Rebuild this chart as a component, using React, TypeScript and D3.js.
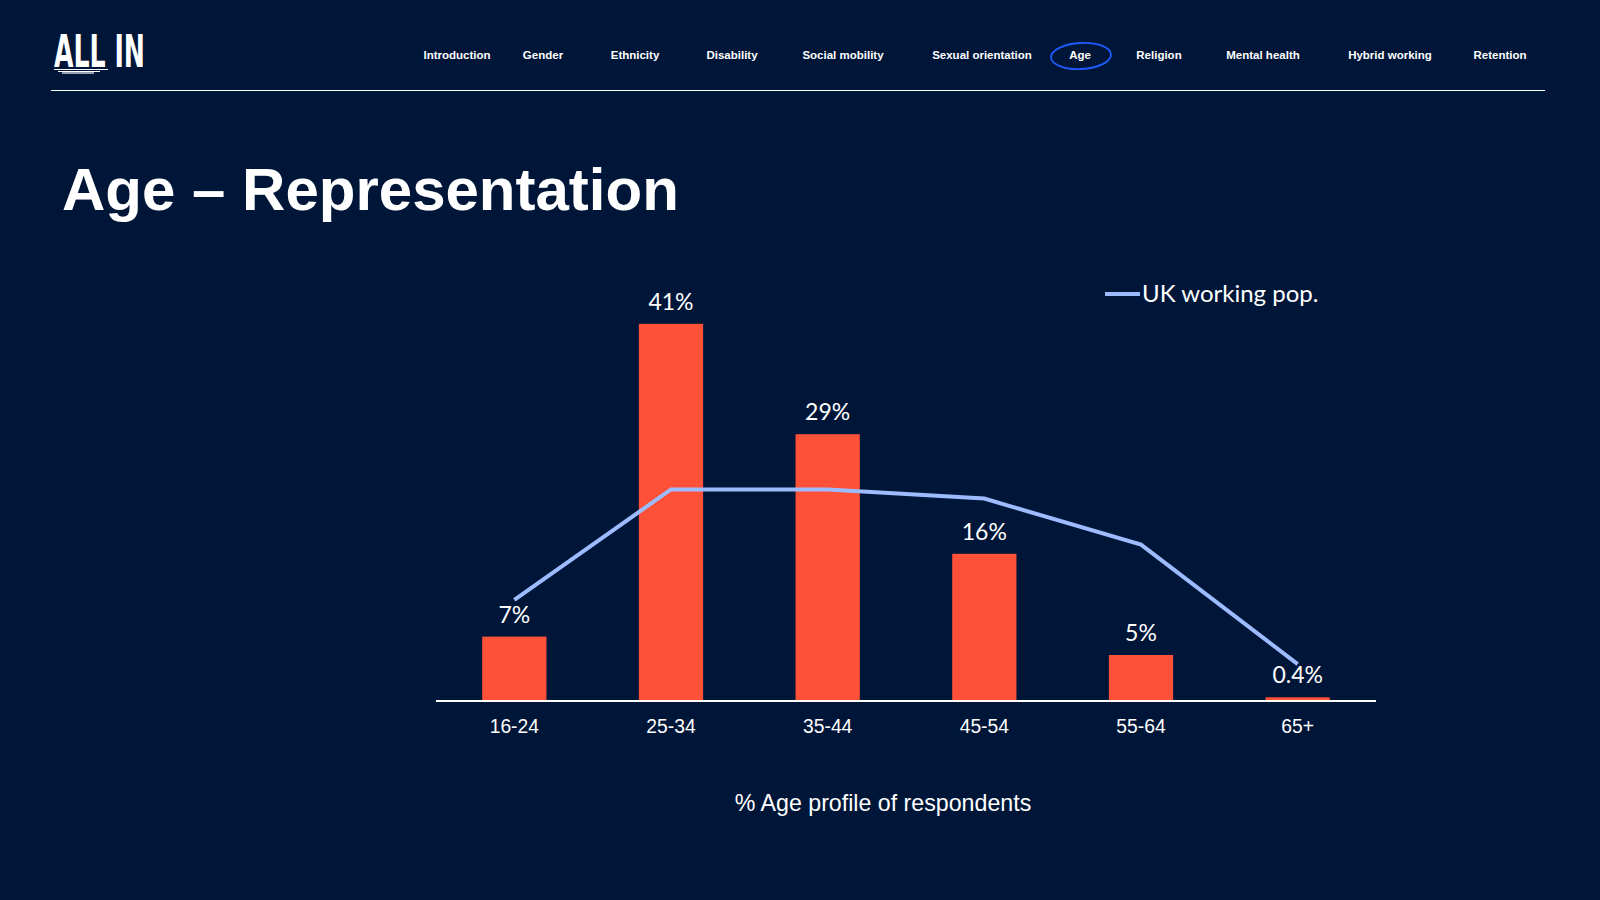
import React, { useEffect, useRef } from 'react';
import * as d3 from 'd3';

const ageGroups = ['16-24', '25-34', '35-44', '45-54', '55-64', '65+'];
const respondentsPct = [7, 41, 29, 16, 5, 0.4];
const respondentLabels = ['7%', '41%', '29%', '16%', '5%', '0.4%'];
const ukWorkingPopPct = [11, 23, 23, 22, 17, 4];

const navItems = [
    'Introduction', 'Gender', 'Ethnicity', 'Disability', 'Social mobility',
    'Sexual orientation', 'Age', 'Religion', 'Mental health', 'Hybrid working', 'Retention',
];
const navCenters = [457, 543, 635, 732, 843, 982, 1080, 1159, 1263, 1390, 1500];

const BG = '#001639';
const BAR = '#ff5138';
const LINE = '#9dbbff';

export default function App() {
    const width = 1600;
    const height = 900;
    const svgRef = useRef<SVGSVGElement>(null);

    useEffect(() => {
        document.body.style.margin = '0';
        document.body.style.background = BG;

        const svg = d3.select(svgRef.current);
        svg.selectAll('*').remove();

        svg.append('rect').attr('width', width).attr('height', height).attr('fill', BG);

        // Logo
        svg.append('text')
            .attr('x', 54).attr('y', 67)
            .attr('fill', '#fff')
            .attr('font-family', 'DejaVu Sans Condensed, DejaVu Sans, sans-serif')
            .attr('font-weight', 'bold')
            .attr('font-size', 45)
            .attr('textLength', 91)
            .attr('lengthAdjust', 'spacingAndGlyphs')
            .text('ALL IN');
        [[54, 108, 69.5], [58, 100, 71.5], [62, 94, 73]].forEach(([x1, x2, yy]) => {
            svg.append('line')
                .attr('x1', x1).attr('x2', x2).attr('y1', yy).attr('y2', yy)
                .attr('stroke', '#fff').attr('stroke-width', 1.2);
        });

        // Navigation
        const nav = svg.append('g')
            .attr('font-family', 'Liberation Sans, Arial, sans-serif')
            .attr('font-weight', 'bold')
            .attr('font-size', 11.5)
            .attr('fill', '#fff')
            .attr('text-anchor', 'middle');
        navItems.forEach((d, i) => {
            nav.append('text').attr('x', navCenters[i]).attr('y', 59).text(d);
        });
        svg.append('ellipse')
            .attr('cx', 1081).attr('cy', 56).attr('rx', 30).attr('ry', 13)
            .attr('transform', 'rotate(-3 1081 56)')
            .attr('fill', 'none').attr('stroke', '#1d5bff').attr('stroke-width', 1.8);

        svg.append('line')
            .attr('x1', 51).attr('x2', 1545).attr('y1', 90.5).attr('y2', 90.5)
            .attr('stroke', '#fff').attr('stroke-width', 1);

        // Title
        svg.append('text')
            .attr('x', 62).attr('y', 210)
            .attr('fill', '#fff')
            .attr('font-family', 'Liberation Sans, Arial, sans-serif')
            .attr('font-weight', 'bold')
            .attr('font-size', 60)
            .text('Age – Representation');

        // Chart
        const x = d3.scaleBand<string>()
            .domain(ageGroups)
            .range([436, 1376])
            .paddingInner(0.59)
            .paddingOuter(0.295);

        const y = d3.scaleLinear()
            .domain([0, 45])
            .range([701, 701 - 45 * 9.2]);

        const g = svg.append('g');

        g.selectAll('rect.bar')
            .data(respondentsPct)
            .join('rect')
            .attr('class', 'bar')
            .attr('x', (d, i) => x(ageGroups[i])!)
            .attr('width', x.bandwidth())
            .attr('y', d => y(d))
            .attr('height', d => y(0) - y(d))
            .attr('fill', BAR);

        const line = d3.line<number>()
            .x((d, i) => x(ageGroups[i])! + x.bandwidth() / 2)
            .y(d => y(d));

        g.append('path')
            .datum(ukWorkingPopPct)
            .attr('fill', 'none')
            .attr('stroke', LINE)
            .attr('stroke-width', 4)
            .attr('d', line);

        g.selectAll('text.val')
            .data(respondentsPct)
            .join('text')
            .attr('class', 'val')
            .attr('x', (d, i) => x(ageGroups[i])! + x.bandwidth() / 2)
            .attr('y', d => y(d) - 14)
            .attr('text-anchor', 'middle')
            .attr('fill', '#fff')
            .attr('font-family', 'Lato, Open Sans, sans-serif')
            .attr('font-size', 23)
            .text((d, i) => respondentLabels[i]);

        // X axis
        const axis = g.append('g')
            .attr('transform', `translate(0,${y(0)})`)
            .call(d3.axisBottom(x).tickSize(0).tickPadding(18));
        axis.select('.domain').attr('stroke', '#fff').attr('stroke-width', 2).attr('d', 'M436,0H1376');
        axis.selectAll('text')
            .attr('fill', '#fff')
            .attr('font-family', 'Liberation Sans, Arial, sans-serif')
            .attr('font-size', 19.3);

        // Axis title
        svg.append('text')
            .attr('x', 883).attr('y', 811)
            .attr('text-anchor', 'middle')
            .attr('fill', '#fff')
            .attr('font-family', 'Liberation Sans, Arial, sans-serif')
            .attr('font-size', 23.2)
            .text('% Age profile of respondents');

        // Legend
        svg.append('line')
            .attr('x1', 1105).attr('x2', 1140).attr('y1', 294).attr('y2', 294)
            .attr('stroke', LINE).attr('stroke-width', 4);
        svg.append('text')
            .attr('x', 1142).attr('y', 301.5)
            .attr('fill', '#fff')
            .attr('font-family', 'Lato, Open Sans, sans-serif')
            .attr('font-size', 24)
            .text('UK working pop.');
    }, []);

    return <>
        <svg ref={svgRef} width={width} height={height} style={{ display: 'block' }}></svg>
    </>;
}
